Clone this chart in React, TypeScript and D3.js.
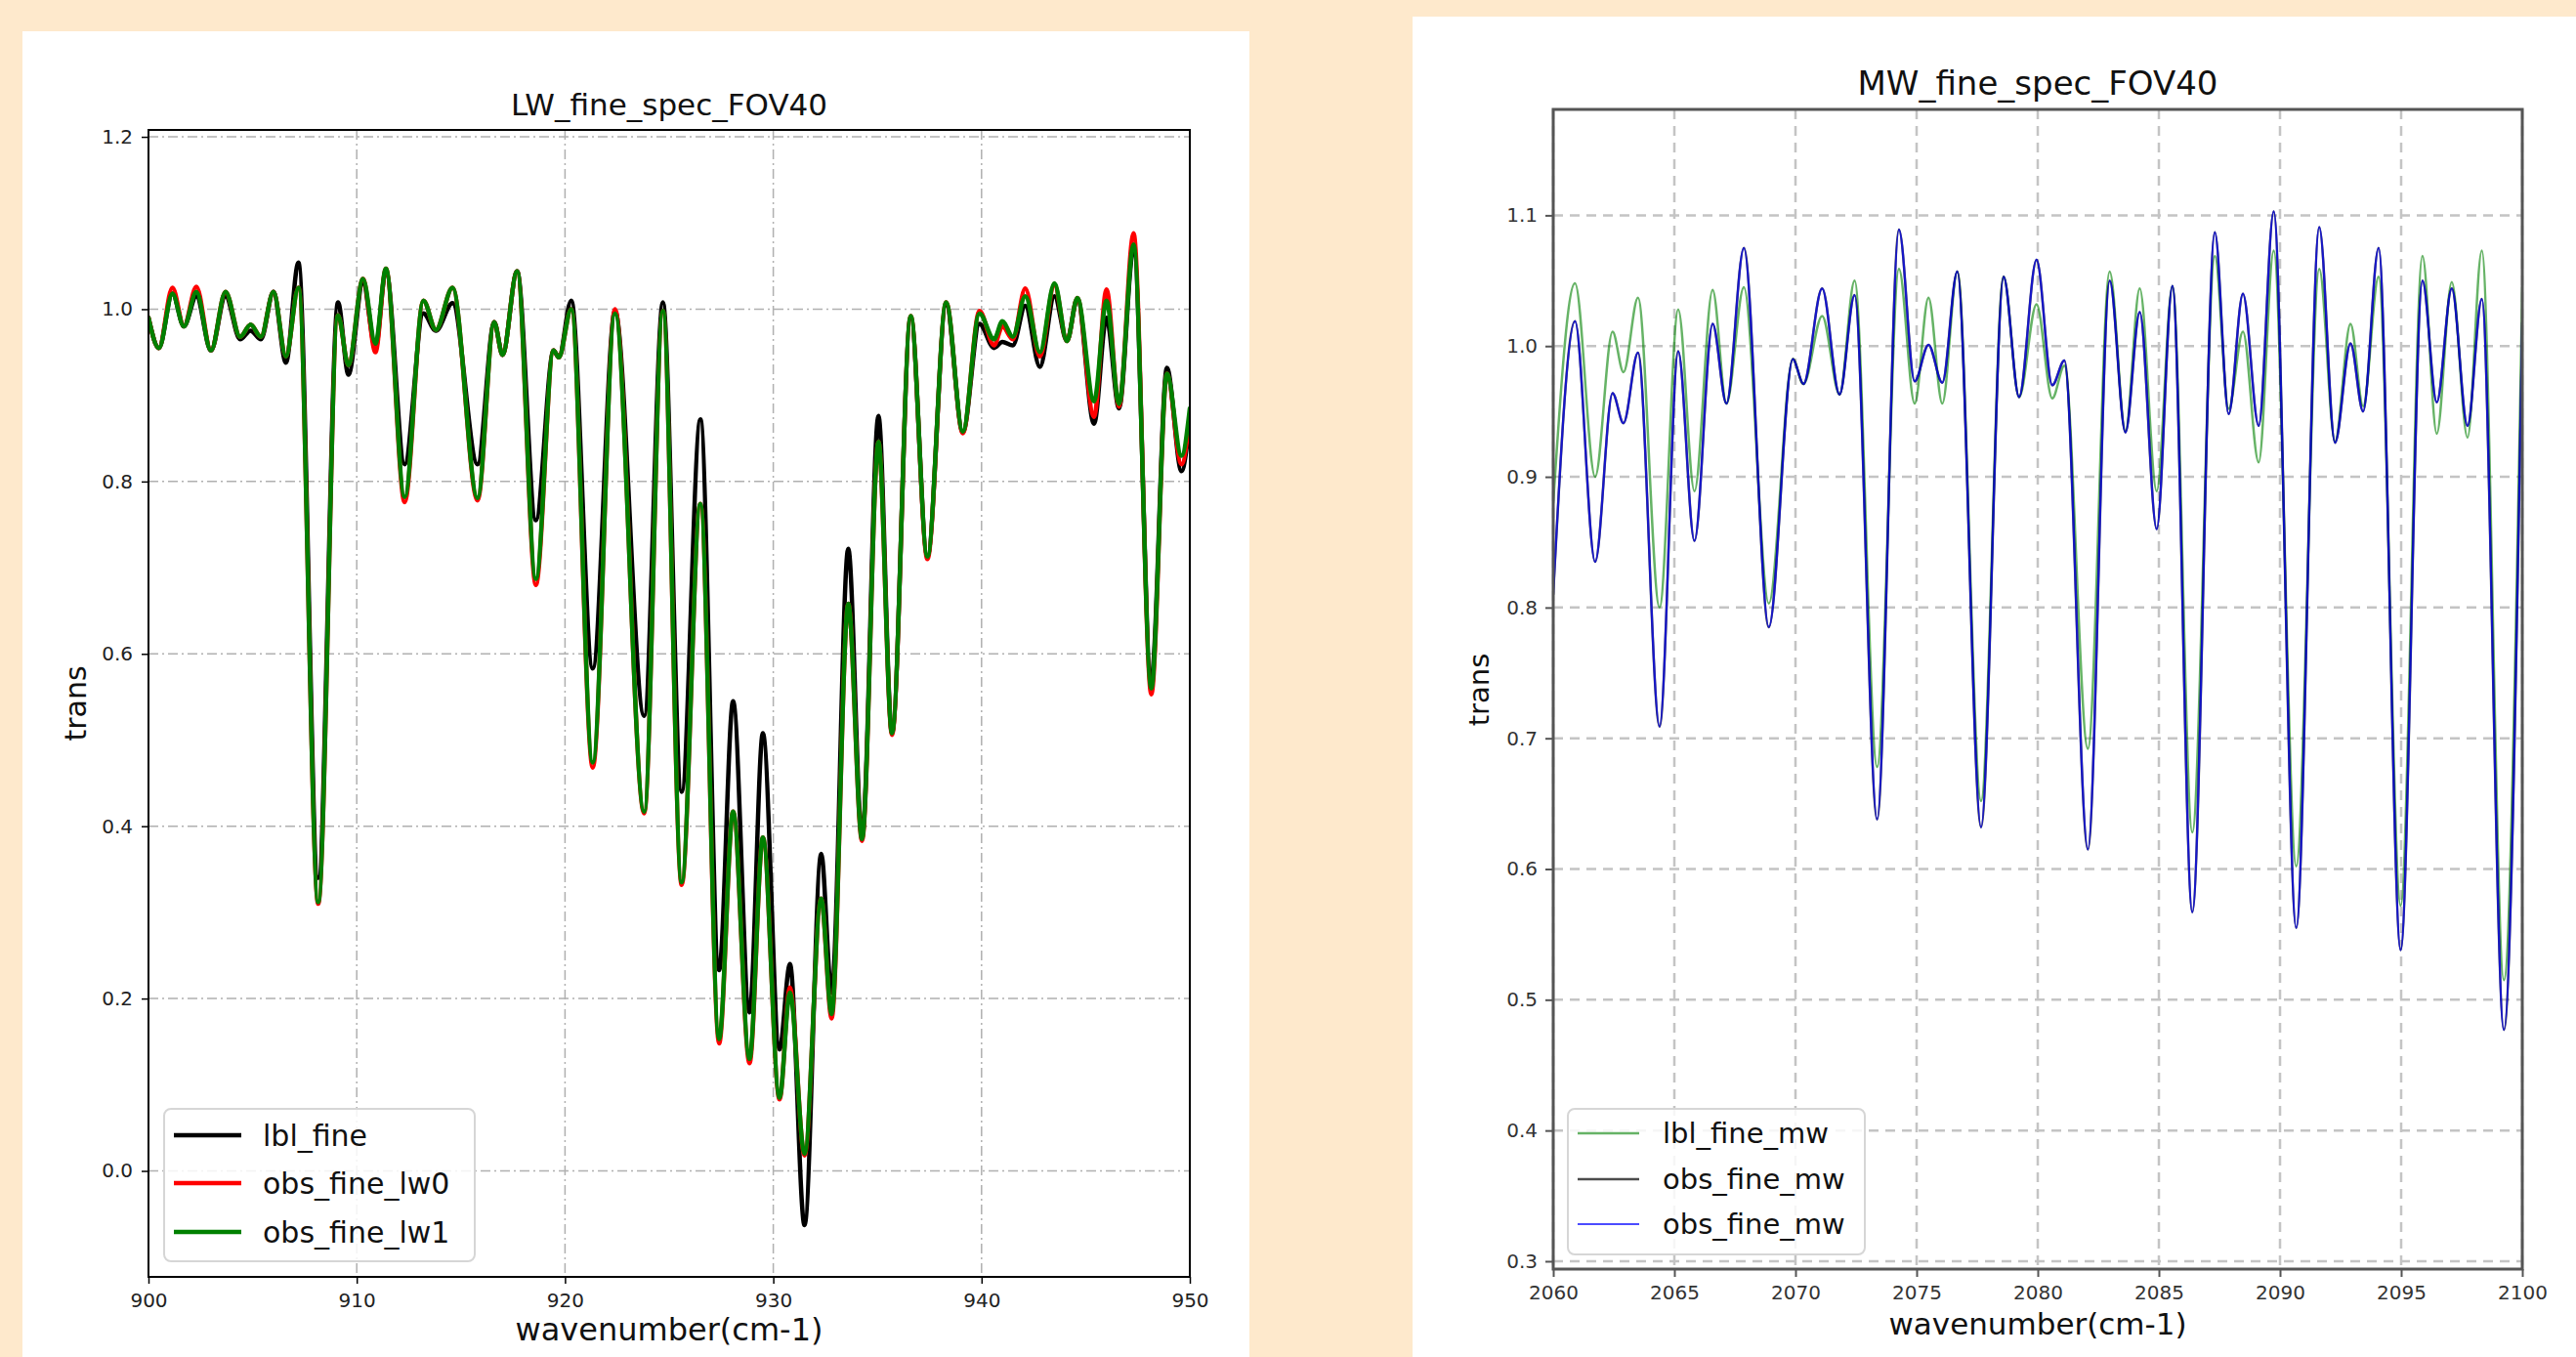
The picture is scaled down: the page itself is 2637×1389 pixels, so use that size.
import React, { useEffect, useRef } from 'react';
import * as d3 from 'd3';

type Pt = [number, number];

// LW panel: turning points of each spectrum (wavenumber, trans)
const lwTicksX = [900, 910, 920, 930, 940, 950];
const lwTicksY = [0.0, 0.2, 0.4, 0.6, 0.8, 1.0, 1.2];

const lblFine: Pt[] = [
  [900.0, 0.99], [900.5, 0.955], [901.15, 1.018], [901.7, 0.98], [902.3, 1.015], [903.0, 0.952],
  [903.7, 1.015], [904.4, 0.965], [904.9, 0.975], [905.4, 0.965], [906.0, 1.02], [906.6, 0.938],
  [907.2, 1.054], [908.15, 0.34], [909.1, 1.008], [909.6, 0.924], [910.3, 1.03], [910.9, 0.955],
  [911.4, 1.045], [912.3, 0.82], [913.2, 0.995], [913.8, 0.975], [914.6, 1.007], [915.8, 0.82],
  [916.6, 0.985], [917.0, 0.947], [917.7, 1.044], [918.6, 0.755], [919.45, 0.952], [919.7, 0.944],
  [920.3, 1.01], [921.33, 0.583], [922.4, 0.998], [923.8, 0.528], [924.7, 1.008], [925.6, 0.44],
  [926.5, 0.872], [927.4, 0.233], [928.07, 0.545], [928.86, 0.184], [929.5, 0.508], [930.3, 0.141],
  [930.8, 0.24], [931.5, -0.063], [932.3, 0.368], [932.8, 0.207], [933.6, 0.722], [934.26, 0.387],
  [935.05, 0.876], [935.7, 0.508], [936.6, 0.99], [937.4, 0.713], [938.3, 1.005], [939.1, 0.857],
  [939.9, 0.983], [940.6, 0.955], [941.0, 0.962], [941.5, 0.958], [942.1, 1.004], [942.8, 0.933],
  [943.5, 1.015], [944.1, 0.963], [944.6, 1.012], [945.4, 0.867], [946.0, 0.99], [946.6, 0.885],
  [947.3, 1.07], [948.15, 0.57], [948.9, 0.932], [949.6, 0.812], [950.0, 0.872],
];

const obsFineLw0: Pt[] = [
  [900.0, 0.99], [900.5, 0.955], [901.15, 1.025], [901.7, 0.98], [902.3, 1.026], [903.0, 0.952],
  [903.7, 1.02], [904.4, 0.968], [904.9, 0.982], [905.4, 0.968], [906.0, 1.02], [906.6, 0.945],
  [907.2, 1.025], [908.15, 0.31], [909.1, 0.993], [909.6, 0.935], [910.3, 1.035], [910.9, 0.95],
  [911.4, 1.047], [912.3, 0.776], [913.2, 1.01], [913.8, 0.976], [914.6, 1.025], [915.8, 0.778],
  [916.6, 0.985], [917.0, 0.947], [917.7, 1.044], [918.6, 0.68], [919.45, 0.952], [919.7, 0.944],
  [920.3, 1.0], [921.33, 0.468], [922.4, 1.0], [923.8, 0.415], [924.7, 0.998], [925.6, 0.332],
  [926.5, 0.774], [927.4, 0.148], [928.07, 0.417], [928.86, 0.125], [929.5, 0.387], [930.3, 0.083],
  [930.8, 0.213], [931.5, 0.018], [932.3, 0.316], [932.8, 0.177], [933.6, 0.658], [934.26, 0.383],
  [935.05, 0.846], [935.7, 0.506], [936.6, 0.992], [937.4, 0.71], [938.3, 1.008], [939.1, 0.856],
  [939.9, 0.998], [940.6, 0.958], [941.0, 0.98], [941.5, 0.965], [942.1, 1.024], [942.8, 0.945],
  [943.5, 1.028], [944.1, 0.963], [944.6, 1.013], [945.4, 0.875], [946.0, 1.023], [946.6, 0.887],
  [947.3, 1.088], [948.15, 0.553], [948.9, 0.925], [949.6, 0.82], [950.0, 0.875],
];

const obsFineLw1: Pt[] = [
  [900.0, 0.99], [900.5, 0.955], [901.15, 1.018], [901.7, 0.98], [902.3, 1.02], [903.0, 0.952],
  [903.7, 1.02], [904.4, 0.968], [904.9, 0.982], [905.4, 0.968], [906.0, 1.02], [906.6, 0.945],
  [907.2, 1.025], [908.15, 0.312], [909.1, 0.993], [909.6, 0.935], [910.3, 1.035], [910.9, 0.96],
  [911.4, 1.047], [912.3, 0.782], [913.2, 1.01], [913.8, 0.976], [914.6, 1.025], [915.8, 0.781],
  [916.6, 0.985], [917.0, 0.947], [917.7, 1.044], [918.6, 0.687], [919.45, 0.952], [919.7, 0.944],
  [920.3, 1.0], [921.33, 0.474], [922.4, 0.995], [923.8, 0.417], [924.7, 0.998], [925.6, 0.335],
  [926.5, 0.774], [927.4, 0.153], [928.07, 0.417], [928.86, 0.13], [929.5, 0.387], [930.3, 0.085],
  [930.8, 0.207], [931.5, 0.02], [932.3, 0.316], [932.8, 0.182], [933.6, 0.658], [934.26, 0.385],
  [935.05, 0.846], [935.7, 0.508], [936.6, 0.992], [937.4, 0.713], [938.3, 1.008], [939.1, 0.858],
  [939.9, 0.995], [940.6, 0.965], [941.0, 0.986], [941.5, 0.968], [942.1, 1.015], [942.8, 0.95],
  [943.5, 1.03], [944.1, 0.963], [944.6, 1.013], [945.4, 0.893], [946.0, 1.01], [946.6, 0.89],
  [947.3, 1.075], [948.15, 0.56], [948.9, 0.925], [949.6, 0.83], [950.0, 0.885],
];

// MW panel
const mwTicksX = [2060, 2065, 2070, 2075, 2080, 2085, 2090, 2095, 2100];
const mwTicksY = [0.3, 0.4, 0.5, 0.6, 0.7, 0.8, 0.9, 1.0, 1.1];

const lblFineMw: Pt[] = [
  [2060.0, 0.88], [2060.9, 1.048], [2061.73, 0.9], [2062.45, 1.011], [2062.9, 0.98], [2063.5, 1.037],
  [2064.39, 0.8], [2065.16, 1.028], [2065.83, 0.889], [2066.58, 1.043], [2067.15, 0.956], [2067.87, 1.045],
  [2068.9, 0.803], [2069.89, 0.99], [2070.33, 0.971], [2071.1, 1.023], [2071.82, 0.963], [2072.44, 1.05],
  [2073.37, 0.678], [2074.27, 1.059], [2074.92, 0.956], [2075.49, 1.037], [2076.06, 0.956], [2076.68, 1.057],
  [2077.66, 0.652], [2078.59, 1.053], [2079.23, 0.961], [2079.95, 1.032], [2080.6, 0.96], [2081.1, 0.985],
  [2082.07, 0.692], [2082.97, 1.057], [2083.62, 0.935], [2084.21, 1.044], [2084.91, 0.889], [2085.56, 1.046],
  [2086.38, 0.628], [2087.31, 1.069], [2087.88, 0.952], [2088.47, 1.011], [2089.12, 0.911], [2089.74, 1.073],
  [2090.67, 0.602], [2091.62, 1.059], [2092.27, 0.927], [2092.91, 1.017], [2093.43, 0.954], [2094.07, 1.053],
  [2094.98, 0.572], [2095.88, 1.069], [2096.47, 0.933], [2097.09, 1.049], [2097.74, 0.93], [2098.33, 1.073],
  [2099.24, 0.515], [2100.0, 1.045],
];

const obsFineMwBlue: Pt[] = [
  [2060.0, 0.81], [2060.9, 1.019], [2061.73, 0.835], [2062.45, 0.964], [2062.9, 0.941], [2063.5, 0.995],
  [2064.39, 0.709], [2065.16, 0.996], [2065.83, 0.851], [2066.58, 1.017], [2067.15, 0.956], [2067.87, 1.075],
  [2068.9, 0.785], [2069.89, 0.99], [2070.33, 0.971], [2071.1, 1.044], [2071.82, 0.963], [2072.44, 1.039],
  [2073.37, 0.638], [2074.27, 1.089], [2074.92, 0.973], [2075.49, 1.001], [2076.06, 0.972], [2076.68, 1.057],
  [2077.66, 0.632], [2078.59, 1.053], [2079.23, 0.961], [2079.95, 1.066], [2080.6, 0.97], [2081.1, 0.989],
  [2082.07, 0.615], [2082.97, 1.05], [2083.62, 0.934], [2084.21, 1.026], [2084.91, 0.86], [2085.56, 1.046],
  [2086.38, 0.567], [2087.31, 1.087], [2087.88, 0.948], [2088.47, 1.04], [2089.12, 0.939], [2089.74, 1.103],
  [2090.67, 0.555], [2091.62, 1.091], [2092.27, 0.926], [2092.91, 1.002], [2093.43, 0.95], [2094.07, 1.075],
  [2094.98, 0.538], [2095.88, 1.05], [2096.47, 0.957], [2097.09, 1.044], [2097.74, 0.939], [2098.33, 1.036],
  [2099.24, 0.477], [2100.0, 1.018],
];

// the dark obs_fine_mw line sits right under the blue one
const obsFineMwDark: Pt[] = obsFineMwBlue;

const FONT = '"DejaVu Sans", Verdana, sans-serif';

interface Series { name: string; data: Pt[]; color: string; width: number; opacity: number; }

interface PanelCfg {
  id: string;
  panel: [number, number, number, number];
  left: number; right: number; top: number; bottom: number;
  xDomain: [number, number]; yDomain: [number, number];
  xTicks: number[]; yTicks: number[];
  title: string; titleY: number; titleSize: number;
  xLabelY: number; xLabelSize: number;
  yLabelX: number; yLabelY: number; yLabelSize: number;
  tickSize: number; tickColor: string; tickLen: number; tickWidth: number; xTickBaseline: number;
  spineColor: string; spineWidth: number;
  gridColor: string; gridDash: string; gridWidth: number;
  series: Series[];
  legend: { x: number; y: number; w: number; h: number; rows: number[]; lineX: [number, number]; textX: number; size: number };
}

function Panel({ cfg }: { cfg: PanelCfg }) {
  const gx = useRef<SVGGElement>(null);
  const gy = useRef<SVGGElement>(null);
  const x = d3.scaleLinear().domain(cfg.xDomain).range([cfg.left, cfg.right]);
  const y = d3.scaleLinear().domain(cfg.yDomain).range([cfg.bottom, cfg.top]);
  const line = d3.line<Pt>().x(d => x(d[0])).y(d => y(d[1])).curve(d3.curveMonotoneX);

  useEffect(() => {
    const ax = d3.axisBottom(x).tickValues(cfg.xTicks).tickFormat(d3.format('d'))
      .tickSize(cfg.tickLen).tickPadding(6);
    const ay = d3.axisLeft(y).tickValues(cfg.yTicks).tickFormat(d3.format('.1f'))
      .tickSize(cfg.tickLen).tickPadding(16 - cfg.tickLen);
    const sx = d3.select(gx.current!).call(ax);
    const sy = d3.select(gy.current!).call(ay);
    [sx, sy].forEach(s => {
      s.select('.domain').remove();
      s.selectAll('line').attr('stroke', cfg.spineColor).attr('stroke-width', cfg.tickWidth);
      s.selectAll('text').attr('fill', cfg.tickColor).style('font-family', FONT)
        .style('font-size', `${cfg.tickSize}px`);
    });
    sx.selectAll('text').attr('y', cfg.xTickBaseline).attr('dy', 0);
  }, []);

  const [px, py, pw, ph] = cfg.panel;
  const lg = cfg.legend;
  return (
    <g>
      <rect x={px} y={py} width={pw} height={ph} fill="#ffffff" />
      <defs>
        <clipPath id={`clip-${cfg.id}`}>
          <rect x={cfg.left} y={cfg.top} width={cfg.right - cfg.left} height={cfg.bottom - cfg.top} />
        </clipPath>
      </defs>
      <g stroke={cfg.gridColor} strokeWidth={cfg.gridWidth} strokeDasharray={cfg.gridDash}>
        {cfg.xTicks.map(t => (
          <line key={`gx${t}`} x1={x(t)} x2={x(t)} y1={cfg.top} y2={cfg.bottom} />
        ))}
        {cfg.yTicks.map(t => (
          <line key={`gy${t}`} x1={cfg.left} x2={cfg.right} y1={y(t)} y2={y(t)} />
        ))}
      </g>
      <g clipPath={`url(#clip-${cfg.id})`} fill="none" strokeLinejoin="round" strokeLinecap="round">
        {cfg.series.map(s => (
          <path key={s.name + s.color} d={line(s.data) || ''} stroke={s.color}
            strokeWidth={s.width} strokeOpacity={s.opacity} />
        ))}
      </g>
      <rect x={cfg.left} y={cfg.top} width={cfg.right - cfg.left} height={cfg.bottom - cfg.top}
        fill="none" stroke={cfg.spineColor} strokeWidth={cfg.spineWidth} />
      <g ref={gx} transform={`translate(0,${cfg.bottom})`} />
      <g ref={gy} transform={`translate(${cfg.left},0)`} />
      <text x={(cfg.left + cfg.right) / 2} y={cfg.titleY} textAnchor="middle" fontSize={cfg.titleSize}
        fontFamily={FONT} fill="#111">{cfg.title}</text>
      <text x={(cfg.left + cfg.right) / 2} y={cfg.xLabelY} textAnchor="middle" fontSize={cfg.xLabelSize}
        fontFamily={FONT} fill="#111">wavenumber(cm-1)</text>
      <text transform={`translate(${cfg.yLabelX},${cfg.yLabelY}) rotate(-90)`} textAnchor="middle"
        dominantBaseline="central" fontSize={cfg.yLabelSize} fontFamily={FONT} fill="#111">trans</text>
      <rect x={lg.x} y={lg.y} width={lg.w} height={lg.h} rx={7} fill="#ffffff" fillOpacity={0.85}
        stroke="#d6d6d6" strokeWidth={2} />
      {cfg.series.map((s, i) => (
        <g key={`lg${i}`}>
          <line x1={lg.lineX[0]} x2={lg.lineX[1]} y1={lg.rows[i]} y2={lg.rows[i]} stroke={s.color}
            strokeWidth={s.width} strokeOpacity={s.opacity} />
          <text x={lg.textX} y={lg.rows[i]} dominantBaseline="central" fontSize={lg.size}
            fontFamily={FONT} fill="#111">{s.name}</text>
        </g>
      ))}
    </g>
  );
}

const lwCfg: PanelCfg = {
  id: 'lw',
  panel: [23, 32, 1256, 1357],
  left: 152, right: 1218, top: 133, bottom: 1307,
  xDomain: [900, 950], yDomain: [-0.123, 1.208],
  xTicks: lwTicksX, yTicks: lwTicksY,
  title: 'LW_fine_spec_FOV40', titleY: 118, titleSize: 31,
  xLabelY: 1372, xLabelSize: 32,
  yLabelX: 77, yLabelY: 720, yLabelSize: 30,
  tickSize: 20, tickColor: '#222', tickLen: 7, tickWidth: 1.5, xTickBaseline: 31,
  spineColor: '#000', spineWidth: 2,
  gridColor: '#b0b0b0', gridDash: '10,4,2,4', gridWidth: 1.5,
  series: [
    { name: 'lbl_fine', data: lblFine, color: '#000000', width: 4.5, opacity: 1 },
    { name: 'obs_fine_lw0', data: obsFineLw0, color: '#ff0000', width: 4.5, opacity: 1 },
    { name: 'obs_fine_lw1', data: obsFineLw1, color: '#008000', width: 4.5, opacity: 1 },
  ],
  legend: { x: 168, y: 1135, w: 318, h: 156, rows: [1162, 1211, 1261], lineX: [178, 247], textX: 269, size: 30 },
};

const mwCfg: PanelCfg = {
  id: 'mw',
  panel: [1446, 17, 1191, 1372],
  left: 1590, right: 2582, top: 112, bottom: 1299,
  xDomain: [2060, 2100], yDomain: [0.294, 1.181],
  xTicks: mwTicksX, yTicks: mwTicksY,
  title: 'MW_fine_spec_FOV40', titleY: 97, titleSize: 34,
  xLabelY: 1366, xLabelSize: 31,
  yLabelX: 1514, yLabelY: 706, yLabelSize: 29,
  tickSize: 20, tickColor: '#333', tickLen: 8, tickWidth: 2, xTickBaseline: 31,
  spineColor: '#555', spineWidth: 3,
  gridColor: '#c4c4c4', gridDash: '10,7', gridWidth: 2.5,
  series: [
    { name: 'lbl_fine_mw', data: lblFineMw, color: '#008000', width: 2.5, opacity: 0.6 },
    { name: 'obs_fine_mw', data: obsFineMwDark, color: '#000000', width: 2.5, opacity: 0.7 },
    { name: 'obs_fine_mw', data: obsFineMwBlue, color: '#0000ff', width: 2.2, opacity: 0.7 },
  ],
  legend: { x: 1605, y: 1135, w: 304, h: 149, rows: [1160, 1207, 1253], lineX: [1615, 1678], textX: 1702, size: 29 },
};

export default function App() {
  return (
    <div style={{ position: 'absolute', left: 0, top: 0, width: 2637, height: 1389, overflow: 'hidden' }}>
      <svg width={2637} height={1389} style={{ display: 'block' }}>
        <rect x={0} y={0} width={2637} height={1389} fill="#fee9cc" />
        <Panel cfg={lwCfg} />
        <Panel cfg={mwCfg} />
      </svg>
    </div>
  );
}
